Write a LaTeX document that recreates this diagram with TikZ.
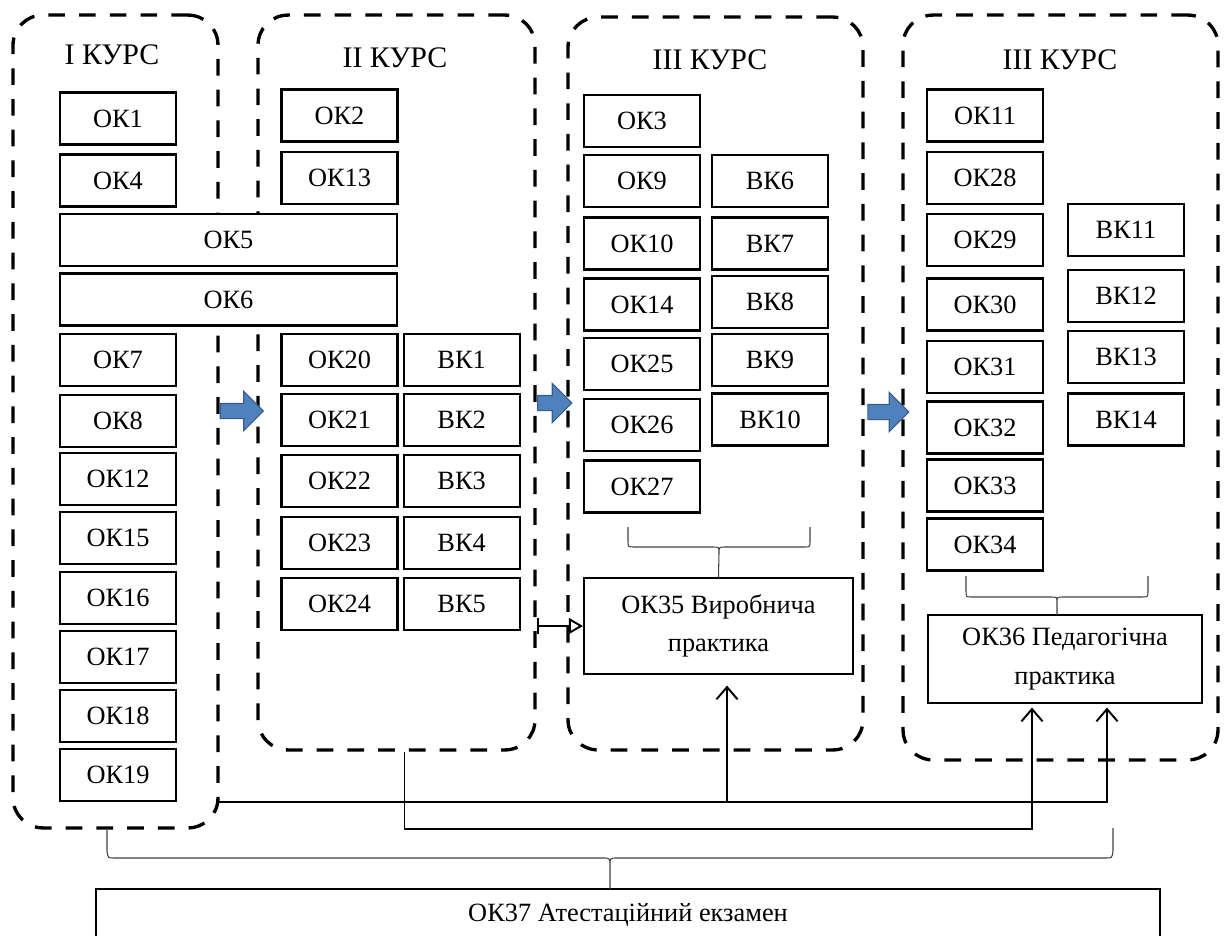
\documentclass[tikz,border=0pt]{standalone}
\usepackage{fontspec}
\setmainfont{Liberation Serif}
\usepackage{tikz}
\usetikzlibrary{positioning,calc,arrows.meta,shapes.arrows}

\definecolor{arrowblue}{HTML}{4F81BD}
\definecolor{arrowedge}{HTML}{385D8A}

\begin{document}
\begin{tikzpicture}[x=0.02cm, y=-0.02cm,
    course/.style={draw, rounded corners=0.6cm, line width=1.9pt,
        dash pattern=on 9.5pt off 8pt},
    title/.style={font=\fontsize{17}{20}\selectfont},
    box/.style={draw, fill=white, line width=1.2pt, inner sep=0pt,
        minimum width=2.32cm, minimum height=1.04cm,
        font=\fontsize{15}{18}\selectfont},
    wide/.style={box, minimum width=6.74cm},
    practice/.style={box, align=center, font=\fontsize{15}{22}\selectfont},
    link/.style={line width=1.1pt},
    up tip/.style={-{Straight Barb[length=7pt, width=12pt]}},
    brace line/.style={line width=0.6pt, draw=black!75},
    bluearrow/.style={single arrow, fill=arrowblue, draw=arrowedge,
        line width=0.6pt, inner xsep=0pt, inner ysep=0.14cm,
        minimum width=0.76cm, minimum height=0.86cm,
        single arrow head extend=0.24cm}
]
    \useasboundingbox (0,0) rectangle (1227,936);

    % course frames
    \node[course, minimum width=4.1cm, minimum height=16.26cm] (c1) at (115.5,421.5) {};
    \node[course, minimum width=5.54cm, minimum height=14.7cm] (c2) at (396.5,382.5) {};
    \node[course, minimum width=5.9cm, minimum height=14.66cm] (c3) at (715.5,383.5) {};
    \node[course, minimum width=6.3cm, minimum height=14.9cm] (c4) at (1060.5,387.5) {};

    \node[title] (t1) at (112,55) {I КУРС};
    \node[title] (t2) at (395,58) {II КУРС};
    \node[title] (t3) at (710,60) {III КУРС};
    \node[title] (t4) at (1060,60) {III КУРС};

    % transitions between courses
    \node[bluearrow] (go1) at (238,411) {};
    \node[bluearrow, minimum height=0.68cm] (go2) at (551,403) {};
    \node[bluearrow, minimum height=0.82cm] (go3) at (884.5,412) {};

    % I course
    \node[box] (ok1) at (118,118.5) {ОК1};
    \node[box] (ok4) at (118,180.5) {ОК4};
    \node[wide] (ok5) at (228.5,240) {ОК5};
    \node[wide] (ok6) at (228.5,299.5) {ОК6};
    \node[box] (ok7) at (118,360) {ОК7};
    \node[box] (ok8) at (118,421) {ОК8};
    \node[box] (ok12) at (118,479) {ОК12};
    \node[box] (ok15) at (118,538) {ОК15};
    \node[box] (ok16) at (118,598) {ОК16};
    \node[box] (ok17) at (118,657) {ОК17};
    \node[box] (ok18) at (118,716) {ОК18};
    \node[box] (ok19) at (118,775) {ОК19};

    % II course
    \node[box] (ok2) at (339.5,115.5) {ОК2};
    \node[box] (ok13) at (339.5,178) {ОК13};
    \node[box] (ok20) at (339.5,360) {ОК20};
    \node[box] (ok21) at (339.5,420) {ОК21};
    \node[box] (ok22) at (339.5,481) {ОК22};
    \node[box] (ok23) at (339.5,543) {ОК23};
    \node[box] (ok24) at (339.5,604) {ОК24};
    \node[box, right=0.08cm of ok20] (vk1) {ВК1};
    \node[box, right=0.08cm of ok21] (vk2) {ВК2};
    \node[box, right=0.08cm of ok22] (vk3) {ВК3};
    \node[box, right=0.08cm of ok23] (vk4) {ВК4};
    \node[box, right=0.08cm of ok24] (vk5) {ВК5};

    % III course
    \node[box] (ok3) at (642,121) {ОК3};
    \node[box] (ok9) at (642,181) {ОК9};
    \node[box] (ok10) at (642,243.5) {ОК10};
    \node[box] (ok14) at (642,304.5) {ОК14};
    \node[box] (ok25) at (642,364) {ОК25};
    \node[box] (ok26) at (642,425) {ОК26};
    \node[box] (ok27) at (642,486.5) {ОК27};
    \node[box] (vk6) at (770,181) {ВК6};
    \node[box] (vk7) at (770,243.5) {ВК7};
    \node[box] (vk8) at (770,302) {ВК8};
    \node[box] (vk9) at (770,360) {ВК9};
    \node[box] (vk10) at (770,419.5) {ВК10};
    \node[practice, minimum width=5.38cm, minimum height=1.92cm] (ok35)
        at (718.5,626) {ОК35 Виробнича\\практика};

    % III course, second frame
    \node[box] (ok11) at (985,115.5) {ОК11};
    \node[box] (ok28) at (985,178) {ОК28};
    \node[box] (ok29) at (985,240) {ОК29};
    \node[box] (ok30) at (985,304.5) {ОК30};
    \node[box] (ok31) at (985,367) {ОК31};
    \node[box] (ok32) at (985,427.5) {ОК32};
    \node[box] (ok33) at (985,485.5) {ОК33};
    \node[box] (ok34) at (985,544.5) {ОК34};
    \node[box] (vk11) at (1126,230) {ВК11};
    \node[box] (vk12) at (1126,296) {ВК12};
    \node[box] (vk13) at (1126,357) {ВК13};
    \node[box] (vk14) at (1126,419.5) {ВК14};
    \node[practice, minimum width=5.48cm, minimum height=1.76cm] (ok36)
        at (1065,659) {ОК36 Педагогічна\\практика};

    % final exam
    \node[box, minimum width=21.28cm, minimum height=1.06cm] (ok37)
        at (628,915.5) {ОК37 Атестаційний екзамен};

    % braces
    \draw[brace line] (628,527) -- (628,541) .. controls (628,547) .. (634,547)
        -- (713,547) .. controls (719,547) .. (719,553) -- (ok35.north)
        (719,553) .. controls (719,547) .. (725,547) -- (804,547)
        .. controls (810,547) .. (810,541) -- (810,527);
    \draw[brace line] (966,576) -- (966,591) .. controls (966,597) .. (972,597)
        -- (1051,597) .. controls (1057,597) .. (1057,603) -- (1057,615)
        (1057,603) .. controls (1057,597) .. (1063,597) -- (1142,597)
        .. controls (1148,597) .. (1148,591) -- (1148,576);
    \draw[brace line] (107,828) -- (107,851) .. controls (108,858) .. (114,858)
        -- (603,858) .. controls (610,858) .. (610,866) -- (610,889)
        (610,866) .. controls (610,858) .. (617,858) -- (1106,858)
        .. controls (1112,858) .. (1113,851) -- (1113,828);

    % links
    \coordinate (a0) at (218,802);
    \coordinate (in35) at ($(ok35.south)+(8.5,0)$);
    \coordinate (in36a) at ($(ok36.south)+(-33,0)$);
    \coordinate (in36b) at ($(ok36.south)+(42,0)$);

    \draw[link, {Bar[width=9pt]}-{Triangle[open, length=8pt, width=9pt]}]
        (c2.east |- ok35.west) -- (ok35.west);

    \draw[link, up tip, shorten >=2pt] (a0) -| (in36b);
    \draw[link, up tip, shorten >=6pt] (in35 |- a0) -- (in35);
    \draw[link, up tip, shorten >=2pt] ($(c2.south)+(8,0)$) -- ++(0,77) -| (in36a);

\end{tikzpicture}
\end{document}
